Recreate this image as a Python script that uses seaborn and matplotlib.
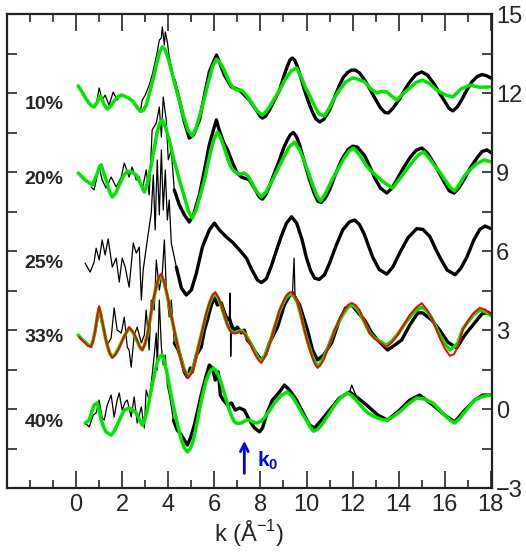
import numpy as np
import pandas as pd
import seaborn as sns
import matplotlib.pyplot as plt
from matplotlib.ticker import MultipleLocator, FixedLocator
plt.switch_backend('agg')

sns.set_style('ticks')
plt.rcParams['font.family'] = ['Liberation Sans', 'DejaVu Sans']
plt.rcParams['mathtext.fontset'] = 'custom'
plt.rcParams['mathtext.rm'] = 'Liberation Sans'
plt.rcParams['mathtext.bf'] = 'Liberation Sans:bold'

# vertical offsets of the stacked spectra
labels = ['10%', '20%', '25%', '33%', '40%']
offsets = [12, 9, 6, 3, 0]

# ---- 10% ----
k10_dat = [0.70, 0.87, 1.00, 1.13, 1.26, 1.43, 1.61, 1.78, 1.96, 2.13, 2.30, 2.48, 2.65, 2.78, 2.87, 3.00,
           3.17, 3.30, 3.43, 3.52, 3.61, 3.70, 3.74, 3.83, 3.87, 3.96, 4.04, 4.26, 4.48, 4.70, 4.91, 5.09,
           5.35, 5.57, 5.78, 5.96, 6.09, 6.22, 6.43, 6.74, 7.09, 7.52, 7.87, 7.98, 8.09, 8.22, 8.39, 8.60,
           8.83, 9.00, 9.17, 9.28, 9.38, 9.48, 9.60, 9.75, 9.91, 10.05, 10.22, 10.40, 10.57, 10.75, 11.00,
           11.20, 11.43, 11.60, 11.78, 11.95, 12.12, 12.30, 12.52, 12.75, 12.96, 13.20, 13.40, 13.55, 13.75,
           14.04, 14.28, 14.48, 14.75, 15.00, 15.25, 15.57, 15.80, 16.00, 16.18, 16.35, 16.55, 16.74, 16.95,
           17.17, 17.40, 17.61, 17.80, 18.00]
y10_dat = [-0.53, -0.46, 0.19, -0.27, -0.08, -0.46, 0.04, -0.27, -0.04, -0.11, -0.23, -0.34, -0.49, -0.72,
           -0.27, -0.08, 0.30, 0.68, 1.18, 1.56, 2.01, 2.09, 2.51, 1.82, 2.32, 1.94, 1.37, 0.49, -0.27, -1.10,
           -1.71, -1.60, -1.03, -0.08, 0.80, 1.18, 1.44, 1.18, 0.68, 0.23, 0.11, -0.27, -0.72, -0.88, -0.95,
           -0.88, -0.65, -0.28, 0.11, 0.60, 1.03, 1.25, 1.33, 1.25, 1.02, 0.60, 0.11, -0.25, -0.65, -0.98,
           -1.10, -1.00, -0.65, -0.20, 0.30, 0.60, 0.78, 0.87, 0.87, 0.76, 0.50, 0.15, -0.19, -0.55, -0.74,
           -0.76, -0.58, -0.22, 0.15, 0.42, 0.70, 0.80, 0.68, 0.30, -0.05, -0.32, -0.58, -0.68, -0.52, -0.25,
           0.10, 0.42, 0.62, 0.70, 0.66, 0.57]
k10_fit = [0.09, 0.25, 0.45, 0.65, 0.78, 0.92, 1.02, 1.09, 1.22, 1.35, 1.50, 1.65, 1.87, 2.05, 2.25, 2.45,
           2.65, 2.80, 2.92, 3.05, 3.20, 3.35, 3.50, 3.62, 3.74, 3.86, 4.00, 4.15, 4.30, 4.48, 4.65, 4.85,
           5.04, 5.20, 5.40, 5.57, 5.75, 5.92, 6.09, 6.25, 6.43, 6.60, 6.78, 6.95, 7.10, 7.22, 7.40, 7.60,
           7.85, 8.09, 8.30, 8.55, 8.83, 9.10, 9.35, 9.57, 9.80, 9.95, 10.13, 10.35, 10.55, 10.78, 11.00,
           11.20, 11.43, 11.70, 12.00, 12.25, 12.52, 12.80, 13.04, 13.25, 13.48, 13.70, 13.91, 14.20, 14.48,
           14.75, 15.04, 15.35, 15.60, 15.78, 16.05, 16.35, 16.70, 17.09, 17.50, 17.96]
y10_fit = [0.27, 0.05, -0.25, -0.48, -0.53, -0.35, -0.12, -0.15, -0.45, -0.61, -0.50, -0.30, -0.11, -0.10,
           -0.18, -0.30, -0.55, -0.70, -0.65, -0.45, 0.05, 0.55, 1.12, 1.55, 1.75, 1.65, 1.30, 0.80, 0.30,
           -0.27, -0.85, -1.40, -1.63, -1.35, -0.75, -0.20, 0.45, 1.00, 1.29, 1.15, 0.87, 0.50, 0.23, 0.12,
           0.12, 0.08, -0.10, -0.35, -0.68, -0.84, -0.65, -0.30, 0.11, 0.55, 0.85, 0.95, 0.55, 0.20, -0.08,
           -0.50, -0.80, -0.87, -0.55, -0.20, 0.11, 0.42, 0.57, 0.52, 0.42, 0.15, 0.00, 0.06, 0.04, -0.12,
           -0.27, -0.02, 0.19, 0.40, 0.49, 0.35, 0.15, 0.04, -0.08, -0.15, 0.15, 0.30, 0.22, 0.23]

# ---- 20% ----
k20_dat = [0.65, 0.78, 1.00, 1.13, 1.30, 1.52, 1.74, 1.96, 2.09, 2.30, 2.43, 2.61, 2.74, 2.87, 3.04, 3.17,
           3.30, 3.48, 3.61, 3.70, 3.78, 3.91, 4.00, 4.13, 4.26, 4.48, 4.70, 4.91, 5.09, 5.35, 5.57, 5.78,
           5.96, 6.09, 6.17, 6.39, 6.57, 6.74, 6.96, 7.17, 7.52, 7.78, 7.95, 8.09, 8.22, 8.39, 8.60, 8.83,
           9.00, 9.17, 9.30, 9.43, 9.56, 9.70, 9.90, 10.13, 10.35, 10.50, 10.65, 10.82, 11.00, 11.25, 11.52,
           11.80, 12.00, 12.20, 12.52, 12.75, 12.96, 13.20, 13.48, 13.70, 13.96, 14.22, 14.48, 14.75, 15.00,
           15.25, 15.57, 15.80, 16.00, 16.20, 16.40, 16.62, 16.87, 17.12, 17.39, 17.62, 17.83, 18.04]
y20_dat = [-0.57, -0.68, 0.19, -0.30, -0.61, -0.19, -0.57, -0.19, 0.34, -0.19, 0.19, -0.30, -0.19, -0.68,
           0.08, -0.87, 1.60, 1.86, 2.47, 1.33, 2.85, 1.98, 0.46, 0.84, -0.68, -1.25, -1.63, -1.90, -1.63,
           -0.87, 0.08, 1.03, 1.60, 1.98, 1.71, 1.14, 0.84, 0.46, 0.00, -0.19, -0.30, -0.68, -0.95, -1.03,
           -0.88, -0.55, -0.05, 0.46, 0.90, 1.22, 1.42, 1.50, 1.35, 1.03, 0.40, -0.30, -0.85, -1.12, -1.15,
           -0.98, -0.68, -0.10, 0.46, 0.85, 0.98, 0.95, 0.62, 0.20, -0.23, -0.60, -0.80, -0.62, -0.23, 0.18,
           0.53, 0.82, 0.91, 0.72, 0.27, -0.10, -0.42, -0.72, -0.80, -0.60, -0.23, 0.18, 0.53, 0.78, 0.84,
           0.72]
k20_fit = [0.09, 0.39, 0.70, 0.90, 1.02, 1.09, 1.20, 1.30, 1.45, 1.57, 1.72, 1.87, 2.05, 2.22, 2.40, 2.61,
           2.80, 2.96, 3.10, 3.26, 3.40, 3.52, 3.63, 3.74, 3.88, 4.04, 4.25, 4.48, 4.70, 4.88, 5.04, 5.20,
           5.40, 5.57, 5.78, 5.96, 6.13, 6.28, 6.43, 6.60, 6.74, 6.90, 7.09, 7.30, 7.45, 7.61, 7.80, 8.04,
           8.25, 8.50, 8.74, 9.00, 9.25, 9.48, 9.70, 9.88, 10.04, 10.25, 10.45, 10.61, 10.80, 11.05, 11.35,
           11.65, 11.85, 12.04, 12.30, 12.57, 12.82, 13.09, 13.40, 13.74, 14.05, 14.39, 14.70, 14.90, 15.09,
           15.30, 15.55, 15.78, 16.05, 16.25, 16.43, 16.65, 16.85, 17.09, 17.40, 17.70, 18.04]
y20_fit = [-0.04, -0.30, -0.49, -0.10, 0.22, 0.27, -0.05, -0.30, -0.75, -0.95, -0.80, -0.49, -0.15, 0.04,
           0.00, -0.11, -0.45, -0.76, -0.40, 0.27, 0.95, 1.52, 1.85, 1.98, 1.70, 1.22, 0.45, -0.30, -0.95,
           -1.50, -1.75, -1.45, -0.85, -0.30, 0.55, 1.20, 1.52, 1.30, 0.91, 0.45, 0.15, 0.00, -0.08, -0.04,
           -0.15, -0.38, -0.70, -0.95, -0.75, -0.35, 0.08, 0.55, 0.95, 1.14, 0.85, 0.45, 0.08, -0.45, -0.90,
           -1.10, -0.85, -0.40, 0.08, 0.55, 0.80, 0.91, 0.65, 0.27, 0.02, -0.19, -0.42, -0.61, -0.25, 0.15,
           0.50, 0.68, 0.76, 0.55, 0.25, 0.00, -0.35, -0.60, -0.72, -0.45, -0.15, 0.08, 0.32, 0.46, 0.38]

# ---- 25% ----
k25_dat = [0.39, 0.61, 0.78, 0.87, 1.00, 1.13, 1.26, 1.39, 1.57, 1.74, 1.87, 2.00, 2.13, 2.30, 2.48, 2.61,
           2.74, 2.83, 2.91, 3.09, 3.26, 3.35, 3.43, 3.52, 3.61, 3.70, 3.78, 3.87, 3.96, 4.04, 4.13, 4.35,
           4.57, 4.78, 5.00, 5.22, 5.48, 5.78, 6.00, 6.22, 6.52, 6.78, 7.09, 7.39, 7.62, 7.87, 8.04, 8.26,
           8.48, 8.70, 8.92, 9.13, 9.35, 9.57, 9.80, 10.00, 10.18, 10.35, 10.55, 10.78, 11.00, 11.28, 11.57,
           11.85, 12.09, 12.30, 12.50, 12.87, 13.15, 13.48, 13.75, 14.04, 14.40, 14.78, 15.05, 15.35, 15.58,
           15.78, 16.10, 16.45, 16.70, 16.96, 17.25, 17.52, 17.75, 18.00]
y25_dat = [-0.46, -0.80, -0.42, 0.11, -0.34, 0.42, -0.15, 0.46, -0.61, -0.27, -1.18, -0.27, -0.61, -1.37,
           0.30, -0.08, 0.15, -1.86, -0.72, 0.42, 1.44, 2.89, 0.80, 3.46, 1.37, 3.84, 1.56, 3.08, 1.18, 1.94,
           0.30, -0.61, -1.41, -1.67, -1.48, -0.84, 0.15, 0.80, 1.06, 0.80, 0.53, 0.34, 0.04, -0.27, -0.70,
           -1.10, -1.20, -1.05, -0.55, 0.04, 0.60, 1.06, 1.30, 1.06, 0.45, -0.27, -0.75, -1.03, -1.08, -0.90,
           -0.46, 0.20, 0.80, 1.10, 1.18, 1.00, 0.65, -0.23, -0.70, -0.88, -0.60, -0.08, 0.50, 0.85, 0.82,
           0.55, 0.12, -0.23, -0.72, -0.90, -0.65, -0.23, 0.40, 0.82, 0.95, 0.85]

# ---- 33% ----
k33_dat = [0.48, 0.65, 0.87, 1.00, 1.09, 1.22, 1.35, 1.52, 1.65, 1.78, 1.96, 2.09, 2.22, 2.30, 2.39, 2.52,
           2.65, 2.83, 2.96, 3.04, 3.17, 3.26, 3.39, 3.48, 3.61, 3.74, 3.83, 3.91, 4.04, 4.13, 4.26, 4.43,
           4.57, 4.70, 4.83, 4.96, 5.04, 5.22, 5.43, 5.57, 5.70, 5.87, 6.00, 6.13, 6.30, 6.43, 6.57, 6.65,
           6.68, 6.71, 6.74, 6.87, 7.00, 7.17, 7.30, 7.43, 7.61, 7.78, 8.04, 8.22, 8.39, 8.74, 9.04, 9.26,
           9.39, 9.46, 9.50, 9.70, 10.04, 10.26, 10.48, 10.74, 11.09, 11.43, 11.70, 11.96, 12.22, 12.52,
           12.83, 13.09, 13.52, 13.83, 14.13, 14.48, 14.83, 15.04, 15.43, 15.78, 16.13, 16.52, 16.87, 17.22,
           17.61, 17.87, 18.04]
y33_dat = [-0.49, -0.65, 0.00, 0.68, 0.30, 0.11, -0.57, -0.30, 0.84, 0.00, -0.11, 0.49, -0.65, -0.76,
           -1.41, -0.19, 0.11, -0.49, -0.19, 0.76, -0.76, 1.14, 0.76, 2.66, 1.52, 2.17, 3.42, 1.63, 0.49,
           1.14, -0.49, -0.76, -1.14, -1.60, -1.79, -1.44, -1.60, -0.95, -0.65, 0.00, 0.38, 0.95, 1.25, 0.95,
           1.03, 0.68, 0.38, 0.46, 1.40, -1.00, 0.19, 0.00, 0.11, -0.11, 0.00, -0.38, -0.57, -0.84, -1.14,
           -0.95, -0.49, 0.11, 0.95, 1.29, 1.41, 2.73, 1.25, 0.95, 0.00, -0.76, -1.14, -0.95, -0.49, 0.38,
           0.84, 0.95, 0.68, 0.38, -0.11, -0.38, -0.76, -0.57, -0.38, 0.19, 0.65, 0.65, 0.38, 0.00, -0.46,
           -0.68, -0.19, 0.19, 0.61, 0.68, 0.57]
k33_fit = [0.09, 0.25, 0.39, 0.52, 0.65, 0.75, 0.83, 0.92, 1.00, 1.08, 1.17, 1.26, 1.35, 1.46, 1.57, 1.72,
           1.87, 2.08, 2.30, 2.48, 2.65, 2.76, 2.87, 2.98, 3.09, 3.20, 3.30, 3.42, 3.52, 3.62, 3.70, 3.82,
           3.96, 4.10, 4.26, 4.42, 4.57, 4.72, 4.87, 5.00, 5.13, 5.30, 5.48, 5.63, 5.78, 5.92, 6.04, 6.17,
           6.30, 6.44, 6.57, 6.68, 6.78, 6.90, 7.00, 7.10, 7.22, 7.36, 7.52, 7.65, 7.78, 7.92, 8.04, 8.20,
           8.39, 8.60, 8.83, 9.00, 9.13, 9.25, 9.35, 9.48, 9.61, 9.76, 9.91, 10.06, 10.22, 10.35, 10.48,
           10.60, 10.74, 10.98, 11.22, 11.45, 11.65, 11.80, 11.96, 12.12, 12.30, 12.52, 12.74, 12.95, 13.17,
           13.32, 13.48, 13.72, 13.96, 14.22, 14.48, 14.75, 15.00, 15.22, 15.43, 15.60, 15.78, 16.00, 16.22,
           16.40, 16.57, 16.78, 17.00, 17.25, 17.52, 17.75, 18.04]
y33_fit = [-0.19, -0.35, -0.46, -0.58, -0.61, -0.35, 0.00, 0.50, 0.84, 0.55, 0.15, -0.25, -0.57, -0.88,
           -1.03, -0.90, -0.65, -0.25, 0.08, -0.10, -0.42, -0.65, -0.76, -0.55, -0.19, 0.35, 0.91, 1.40, 1.79,
           2.02, 2.09, 1.80, 1.29, 0.65, 0.00, -0.62, -1.18, -1.55, -1.75, -1.60, -1.29, -0.65, 0.00, 0.55,
           0.99, 1.28, 1.37, 1.20, 0.91, 0.52, 0.19, 0.00, -0.08, -0.10, -0.08, -0.03, -0.04, -0.18, -0.42,
           -0.65, -0.87, -1.08, -1.18, -0.95, -0.53, 0.08, 0.72, 1.05, 1.25, 1.35, 1.37, 1.25, 1.03, 0.55,
           0.00, -0.48, -0.91, -1.20, -1.37, -1.28, -1.06, -0.55, 0.00, 0.40, 0.68, 0.88, 0.95, 0.88, 0.68,
           0.28, -0.11, -0.30, -0.42, -0.50, -0.57, -0.40, -0.15, 0.18, 0.49, 0.75, 0.87, 0.72, 0.46, 0.15,
           -0.19, -0.52, -0.76, -0.65, -0.49, 0.05, 0.30, 0.58, 0.76, 0.70, 0.53]
k33_fit2 = [0.13] + k33_fit[1:]
y33_fit2 = [-0.27, -0.38, -0.49, -0.60, -0.65, -0.38, 0.00, 0.55, 0.91, 0.58, 0.19, -0.25, -0.57, -0.90,
            -1.06, -0.92, -0.68, -0.25, 0.11, -0.08, -0.38, -0.63, -0.76, -0.55, -0.19, 0.38, 0.95, 1.45,
            1.82, 2.06, 2.13, 1.84, 1.33, 0.67, 0.00, -0.65, -1.22, -1.60, -1.82, -1.66, -1.33, -0.66, 0.00,
            0.58, 1.03, 1.34, 1.44, 1.25, 0.95, 0.54, 0.19, -0.02, -0.11, -0.13, -0.11, -0.06, -0.08, -0.22,
            -0.46, -0.72, -0.95, -1.15, -1.25, -1.00, -0.57, 0.08, 0.76, 1.10, 1.33, 1.42, 1.44, 1.30, 1.06,
            0.56, 0.00, -0.50, -0.95, -1.26, -1.44, -1.34, -1.14, -0.58, 0.00, 0.45, 0.76, 0.95, 1.03, 0.95,
            0.76, 0.32, -0.11, -0.32, -0.46, -0.55, -0.65, -0.45, -0.19, 0.20, 0.57, 0.85, 1.02, 0.78, 0.46,
            0.10, -0.30, -0.70, -0.98, -0.92, -0.62, 0.00, 0.35, 0.65, 0.84, 0.78, 0.57]

# ---- 40% ----
k40_dat = [0.39, 0.57, 0.74, 0.87, 1.00, 1.13, 1.22, 1.35, 1.52, 1.65, 1.78, 1.87, 2.00, 2.13, 2.22, 2.39,
           2.52, 2.65, 2.83, 2.96, 3.04, 3.17, 3.30, 3.39, 3.48, 3.52, 3.61, 3.70, 3.78, 3.87, 3.96, 4.09,
           4.22, 4.39, 4.57, 4.70, 4.83, 4.96, 5.13, 5.30, 5.48, 5.65, 5.78, 5.91, 6.04, 6.17, 6.26, 6.39,
           6.57, 6.74, 6.91, 7.09, 7.30, 7.52, 7.74, 7.96, 8.09, 8.30, 8.52, 8.83, 9.04, 9.26, 9.57, 9.83,
           10.13, 10.35, 10.65, 11.00, 11.43, 11.87, 11.96, 12.17, 12.61, 13.09, 13.52, 14.04, 14.48, 14.91,
           15.48, 16.00, 16.43, 16.87, 17.30, 17.65, 18.04]
y40_dat = [-0.53, -0.68, -0.23, -0.15, 0.34, -0.34, -0.42, 0.15, 0.53, -0.30, 0.34, 0.61, -0.04, 0.27,
           0.34, -0.30, 0.46, -0.53, 0.08, -0.72, 0.72, 0.34, 1.29, 2.05, 2.89, 1.48, 4.14, 2.35, 1.67, 2.05,
           0.91, 0.34, -0.42, -0.80, -0.99, -1.18, -1.37, -1.10, -0.61, 0.04, 0.72, 1.29, 1.67, 1.56, 1.10,
           1.41, 0.53, 0.34, 0.15, 0.23, -0.04, 0.04, -0.04, -0.42, -0.72, -0.87, -0.72, -0.11, 0.34, 0.65,
           0.91, 0.72, 0.34, -0.11, -0.61, -0.72, -0.42, -0.04, 0.42, 0.65, 0.91, 0.46, 0.15, -0.23, -0.42,
           -0.04, 0.34, 0.53, 0.15, -0.23, -0.49, -0.04, 0.34, 0.53, 0.53]
k40_fit = [0.39, 0.57, 0.70, 0.78, 0.91, 1.00, 1.09, 1.20, 1.30, 1.52, 1.65, 1.78, 1.95, 2.09, 2.30, 2.45,
           2.61, 2.75, 2.87, 2.98, 3.09, 3.20, 3.30, 3.42, 3.52, 3.63, 3.74, 3.85, 3.96, 4.10, 4.26, 4.42,
           4.57, 4.70, 4.83, 4.96, 5.09, 5.22, 5.35, 5.50, 5.65, 5.80, 5.96, 6.10, 6.22, 6.33, 6.43, 6.55,
           6.65, 6.76, 6.87, 7.00, 7.17, 7.39, 7.50, 7.61, 7.75, 7.87, 8.02, 8.17, 8.40, 8.61, 8.90, 9.17,
           9.40, 9.61, 9.82, 10.04, 10.17, 10.30, 10.47, 10.65, 10.95, 11.22, 11.50, 11.78, 12.00, 12.22,
           12.42, 12.61, 12.85, 13.09, 13.30, 13.48, 13.75, 14.04, 14.40, 14.78, 15.10, 15.48, 15.75, 16.00,
           16.22, 16.43, 16.65, 16.87, 17.10, 17.30, 17.65, 18.04]
y40_fit = [-0.53, -0.42, -0.05, 0.15, 0.23, -0.05, -0.42, -0.70, -0.87, -0.99, -0.85, -0.61, -0.28, -0.04,
           0.04, -0.02, -0.15, -0.40, -0.61, -0.40, -0.04, 0.45, 0.91, 1.40, 1.79, 2.00, 2.05, 1.75, 1.29,
           0.62, -0.04, -0.65, -1.18, -1.48, -1.63, -1.50, -1.18, -0.65, -0.04, 0.58, 1.10, 1.42, 1.56, 1.42,
           1.18, 0.90, 0.61, 0.25, -0.04, -0.30, -0.49, -0.55, -0.53, -0.42, -0.42, -0.46, -0.52, -0.53,
           -0.46, -0.34, -0.05, 0.23, 0.52, 0.65, 0.45, 0.15, -0.18, -0.49, -0.70, -0.84, -0.78, -0.61,
           -0.22, 0.15, 0.45, 0.61, 0.48, 0.27, 0.06, -0.11, -0.25, -0.34, -0.40, -0.42, -0.30, -0.11, 0.18,
           0.42, 0.38, 0.23, 0.00, -0.23, -0.42, -0.53, -0.35, -0.11, 0.15, 0.34, 0.48, 0.53]

data = [(k10_dat, y10_dat), (k20_dat, y20_dat), (k25_dat, y25_dat), (k33_dat, y33_dat), (k40_dat, y40_dat)]
fits = {0: (k10_fit, y10_fit), 1: (k20_fit, y20_fit), 3: (k33_fit, y33_fit), 4: (k40_fit, y40_fit)}
# single-point glitches: drawn only by the thin trace
spikes = {3: [6.68, 6.71, 9.46], 4: [11.96]}

label_k = -1.4
label_y = [11.58, 8.70, 5.54, 2.73, -0.50]

green = '#00e400'
fig = plt.figure(figsize=(5.26, 5.58), dpi=100)
ax = fig.add_axes([0.0133, 0.1254, 0.9221, 0.8495])

for i, (kk, yy) in enumerate(data):
    df = pd.DataFrame({'k': kk, 'chi': np.array(yy) + offsets[i]})
    sns.lineplot(data=df, x='k', y='chi', sort=False, estimator=None, color='black', lw=0.9, ax=ax)
    # the noise makes the trace look thick beyond ~4 A^-1
    hi = df[(df['k'] >= 4.2) & ~df['k'].isin(spikes.get(i, []))]
    sns.lineplot(data=hi, x='k', y='chi', sort=False, estimator=None, color='black', lw=2.4, ax=ax)
    if i in fits:
        fk, fy = fits[i]
        sns.lineplot(x=fk, y=np.array(fy) + offsets[i], sort=False, estimator=None,
                     color=green, lw=2.5, ax=ax)
    if i == 3:
        sns.lineplot(x=k33_fit2, y=np.array(y33_fit2) + offsets[i], sort=False, estimator=None,
                     color='#ff0000', lw=1.4, ax=ax)
    ax.text(label_k, label_y[i], labels[i], ha='center', va='center', fontsize=14, fontweight='bold')

# k0 marker
ax.annotate('', xy=(7.3, -1.1), xytext=(7.3, -2.55),
            arrowprops=dict(arrowstyle='->', color='#0000ee', lw=2, mutation_scale=14))
ax.text(7.85, -1.95, r'$\mathbf{k_0}$', color='#0000ee', fontsize=15, ha='left', va='center')

ax.set_xlim(-3, 18.05)
ax.set_ylim(-3, 15)
ax.xaxis.set_major_locator(FixedLocator(list(range(0, 19, 2))))
ax.xaxis.set_minor_locator(MultipleLocator(1))
ax.yaxis.set_major_locator(MultipleLocator(3))
ax.yaxis.set_minor_locator(MultipleLocator(1.5))
ax.yaxis.tick_right()
ax.tick_params(axis='x', which='both', direction='in', top=True, bottom=True, width=1.2, labelsize=17, pad=4)
ax.tick_params(axis='x', which='major', length=12)
ax.tick_params(axis='x', which='minor', length=6)
ax.tick_params(axis='y', which='both', direction='in', left=True, right=True, length=7, width=1.2,
               labelleft=False, labelright=True, labelsize=17, pad=3)
for s in ax.spines.values():
    s.set_linewidth(1.6)
    s.set_color('#222222')

ax.set_xlabel('k (Å$^{-1}$)', fontsize=17, labelpad=2)
ax.set_ylabel('')

fig.savefig('out.png', dpi=100)
